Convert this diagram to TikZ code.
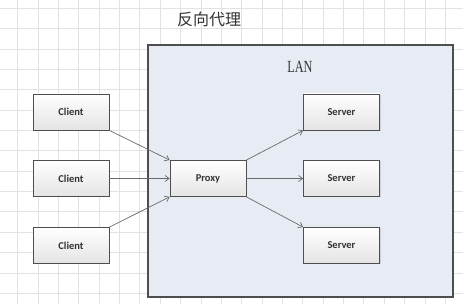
\documentclass[tikz,border=0pt]{standalone}
\usepackage{fontspec}
\newfontfamily\cjk{Noto Sans CJK SC}
\newfontfamily\boxfont{Carlito}
\newfontfamily\lanfont[FakeStretch=0.72]{Liberation Serif}
\usetikzlibrary{arrows.meta,positioning,shadows}
\definecolor{gridgray}{HTML}{E2E2E2}
\definecolor{lanfill}{HTML}{E7ECF4}
\definecolor{edgegray}{HTML}{4E4E4E}
\definecolor{boxgray}{HTML}{E4E4E4}
\definecolor{textgray}{HTML}{333333}

\begin{document}
\begin{tikzpicture}[x=1pt, y=-1pt, >={Straight Barb[length=4pt,width=6pt]},
  box/.style={draw=edgegray, line width=0.8pt, top color=white, bottom color=boxgray,
    minimum width=76pt, minimum height=36pt, inner sep=0pt, text=textgray,
    font=\boxfont\bfseries\fontsize{10.5}{12}\selectfont,
    drop shadow={shadow xshift=1pt, shadow yshift=-1pt, opacity=0.25}},
  link/.style={->, draw=edgegray!85, line width=0.7pt}]
  \useasboundingbox (0,0) rectangle (463,304);
  % 背景网格
  \foreach \i in {0,...,21}
    \draw[gridgray, line width=0.8pt] (17.7+20.36*\i,0) -- (17.7+20.36*\i,304);
  \foreach \j in {0,...,14}
    \draw[gridgray, line width=0.8pt] (0,8.3+20.36*\j) -- (463,8.3+20.36*\j);

  % 标题与局域网
  \node[font=\cjk\fontsize{16}{18}\selectfont, text=textgray] (title) at (209,19) {反向代理};
  \draw[edgegray, line width=1.2pt, fill=lanfill,
    drop shadow={shadow xshift=1pt, shadow yshift=-1pt, opacity=0.25}] (148,45) rectangle (453,297);
  \node[font=\lanfont\fontsize{17}{19}\selectfont, text=textgray] (lan) at (300,67) {LAN};

  % 客户端、代理、服务器
  \node[box] (c1) at (71,112) {Client};
  \node[box] (c2) at (71,178.5) {Client};
  \node[box] (c3) at (71,245.5) {Client};
  \node[box] (px) at (208,178.5) {Proxy};
  \node[box] (s1) at (341.5,112) {Server};
  \node[box] (s2) at (341.5,178.5) {Server};
  \node[box] (s3) at (341.5,245.5) {Server};

  \draw[link] (c1.south east) -- (px.north west);
  \draw[link] (c2) -- (px);
  \draw[link] (c3.north east) -- (px.south west);
  \draw[link] (px.north east) -- (s1.south west);
  \draw[link] (px) -- (s2);
  \draw[link] (px.south east) -- (s3.north west);
\end{tikzpicture}
\end{document}
